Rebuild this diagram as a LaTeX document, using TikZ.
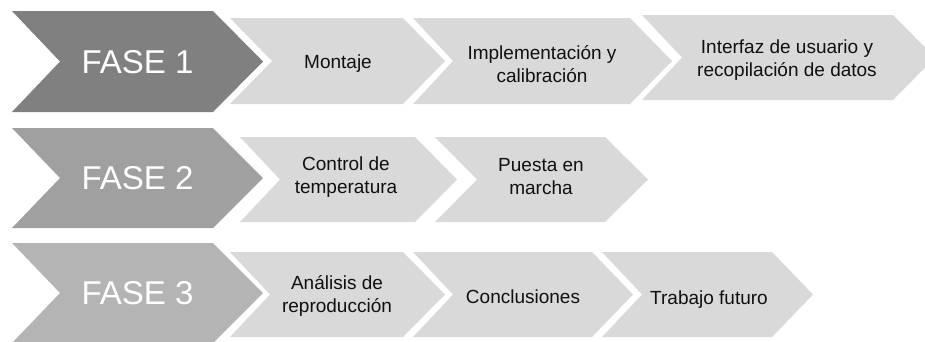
\documentclass[tikz,border=0pt]{standalone}
\usepackage{fontspec}
\setmainfont{Liberation Sans}
\definecolor{faseA}{HTML}{808080}
\definecolor{faseB}{HTML}{A0A0A0}
\definecolor{faseC}{HTML}{B4B4B4}
\definecolor{stepfill}{HTML}{D9D9D9}
\definecolor{steptext}{HTML}{101010}
\newcommand\chevpath[7]{% fill, x1, y1, x2, y2, tip, notch
  \fill[#1] (#2,#3) -- (#4,#3) -- ({#4+#6},{(#3+#5)/2}) -- (#4,#5) -- (#2,#5) -- ({#2+#7},{(#3+#5)/2}) -- cycle;}
\tikzset{
  fasetext/.style={text=white, font=\fontsize{33}{36}\selectfont, inner sep=0pt},
  steplabel/.style={text=steptext, font=\fontsize{19}{23}\selectfont, align=center, inner sep=0pt}
}
\begin{document}
\begin{tikzpicture}[x=1pt,y=-1pt]
\useasboundingbox (0,0) rectangle (925,341);
\clip (0,0) rectangle (925,341);
% Row 1
\chevpath{faseA}{12}{11}{213}{112}{50}{48}
\chevpath{stepfill}{230}{18}{403}{104}{42}{42}
\chevpath{stepfill}{413}{18}{630}{104}{42}{40}
\chevpath{stepfill}{642}{15}{893}{100}{42}{40}
\node[fasetext] (f1) at (137.5,62) {FASE 1};
\node[steplabel] (s11) at (338,64) {Montaje};
\node[steplabel] (s12) at (542,64) {Implementación y\\calibración};
\node[steplabel] (s13) at (787,60) {Interfaz de usuario y\\recopilación de datos};
% Row 2
\chevpath{faseB}{12}{128}{213}{228}{50}{48}
\chevpath{stepfill}{240}{137}{415}{222}{42}{40}
\chevpath{stepfill}{435}{137}{605}{222}{43}{42}
\node[fasetext] (f2) at (137.5,178) {FASE 2};
\node[steplabel] (s21) at (346,177) {Control de\\temperatura};
\node[steplabel] (s22) at (541,177) {Puesta en\\marcha};
% Row 3
\chevpath{faseC}{12}{243}{213}{343}{50}{48}
\chevpath{stepfill}{230}{252}{403}{337}{42}{40}
\chevpath{stepfill}{413}{252}{592}{337}{41}{40}
\chevpath{stepfill}{602}{252}{772}{337}{41}{40}
\node[fasetext] (f3) at (137.5,293) {FASE 3};
\node[steplabel] (s31) at (337,296) {Análisis de\\reproducción};
\node[steplabel] (s32) at (523,297) {Conclusiones};
\node[steplabel] (s33) at (709,299.5) {Trabajo futuro};
\end{tikzpicture}
\end{document}
